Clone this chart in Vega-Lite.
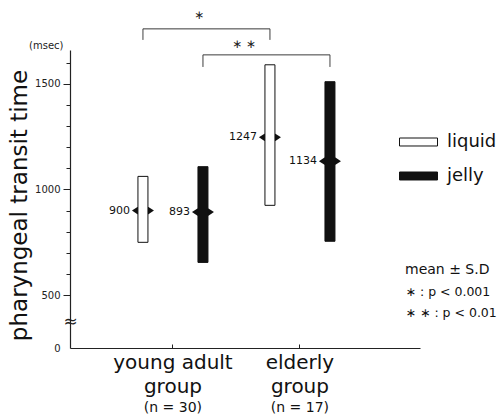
{
  "$schema": "https://vega.github.io/schema/vega-lite/v6.json",
  "autosize": {"type": "none"},
  "width": 350,
  "height": 298,
  "padding": {"left": 70, "top": 50, "right": 81, "bottom": 72},
  "background": "white",
  "config": {
    "view": {"stroke": null},
    "font": "DejaVu Sans",
    "axis": {"domainColor": "#222", "tickColor": "#222", "labelColor": "#222", "titleColor": "#222", "grid": false},
    "legend": {"padding": 0}
  },
  "datasets": {
    "main": [
      {"group": "young", "form": "liquid", "mean": 900, "low": 750, "high": 1062},
      {"group": "young", "form": "jelly", "mean": 893, "low": 655, "high": 1108},
      {"group": "elderly", "form": "liquid", "mean": 1247, "low": 925, "high": 1590},
      {"group": "elderly", "form": "jelly", "mean": 1134, "low": 755, "high": 1510}
    ],
    "brackets": [
      {"b": "A", "note": "∗ : p < 0.001", "group": "young", "form": "liquid", "y": 1708, "o": 1},
      {"b": "A", "note": "∗ : p < 0.001", "group": "young", "form": "liquid", "y": 1760, "o": 2},
      {"b": "A", "note": "∗ : p < 0.001", "group": "elderly", "form": "liquid", "y": 1760, "o": 3},
      {"b": "A", "note": "∗ : p < 0.001", "group": "elderly", "form": "liquid", "y": 1708, "o": 4},
      {"b": "B", "note": "∗ ∗ : p < 0.01", "group": "young", "form": "jelly", "y": 1580, "o": 1},
      {"b": "B", "note": "∗ ∗ : p < 0.01", "group": "young", "form": "jelly", "y": 1637, "o": 2},
      {"b": "B", "note": "∗ ∗ : p < 0.01", "group": "elderly", "form": "jelly", "y": 1637, "o": 3},
      {"b": "B", "note": "∗ ∗ : p < 0.01", "group": "elderly", "form": "jelly", "y": 1580, "o": 4}
    ],
    "groups": [
      {"group": "young", "n": "(n = 30)"},
      {"group": "elderly", "n": "(n = 17)"}
    ]
  },
  "encoding": {
    "x": {
      "field": "group", "type": "nominal",
      "scale": {"domain": ["young", "elderly"], "paddingInner": 0, "paddingOuter": 0.378, "align": 0.411},
      "axis": {
        "title": null, "labelAngle": 0, "domainWidth": 1.2,
        "tickSize": -4, "labelPadding": 8,
        "labelFontSize": 20, "labelLineHeight": 24, "labelColor": "#111",
        "labelExpr": "datum.value == 'young' ? ['young adult', 'group'] : ['elderly', 'group']"
      }
    }
  },
  "layer": [
    {
      "data": {"name": "main"},
      "mark": {"type": "point", "shape": "M-1,0L-0.5,-0.33L0.5,-0.33L1,0L0.5,0.33L-0.5,0.33Z", "filled": true, "color": "#111", "opacity": 1, "size": 484},
      "encoding": {
        "xOffset": {"field": "form", "type": "nominal", "scale": {"domain": ["liquid", "jelly"], "paddingInner": 0, "paddingOuter": 0.058}},
        "y": {
          "field": "mean", "type": "quantitative",
          "scale": {"domain": [250, 1660], "zero": false, "nice": false},
          "axis": {
            "title": "pharyngeal transit time",
            "titleFontSize": 23, "titleFontWeight": "normal", "titleColor": "#111",
            "titleX": -51, "titleY": 155, "titleBaseline": "middle",
            "values": [250, 375, 500, 600, 700, 800, 900, 1000, 1100, 1200, 1300, 1400, 1500, 1600, 1660],
            "tickCount": 30,
            "domainWidth": 1.2,
            "labelOverlap": false, "labelFlush": false, "labelBound": false,
            "labelExpr": "datum.value == 250 ? '0' : datum.value == 375 ? '≈' : datum.value == 1660 ? '(msec)' : (datum.value % 500 == 0 ? '' + datum.value : '')",
            "labelFontSize": {"condition": {"test": "datum.value == 375", "value": 17}, "value": 10},
            "labelAlign": {"condition": {"test": "datum.value == 375", "value": "center"}, "value": "right"},
            "labelBaseline": {"condition": {"test": "datum.value == 1660", "value": "bottom"}, "value": "middle"},
            "labelPadding": {"condition": {"test": "datum.value == 375", "value": -4}, "value": 3},
            "tickSize": {"condition": {"test": "datum.value % 500 == 0 || datum.value == 250", "value": 7}, "value": 4},
            "tickOpacity": {"condition": {"test": "datum.value == 250 || datum.value == 375 || datum.value == 1660", "value": 0}, "value": 1}
          }
        }
      }
    },
    {
      "data": {"name": "main"},
      "mark": {"type": "bar", "size": 10, "stroke": "#111", "strokeWidth": 1},
      "encoding": {
        "xOffset": {"field": "form", "type": "nominal"},
        "y": {"field": "low", "type": "quantitative"},
        "y2": {"field": "high"},
        "fill": {
          "field": "form", "type": "nominal",
          "scale": {"domain": ["liquid", "jelly"], "range": ["white", "#111"]},
          "legend": {
            "title": null, "orient": "none", "legendX": 329, "legendY": 77,
            "symbolType": "M-1,-0.21H1V0.21H-1Z", "symbolSize": 1444,
            "symbolStrokeColor": "#111", "symbolStrokeWidth": 1,
            "labelFontSize": 18, "labelColor": "#111", "labelOffset": 9,
            "clipHeight": 30, "rowPadding": 4
          }
        }
      }
    },
    {
      "data": {"name": "main"},
      "mark": {"type": "text", "align": "right", "baseline": "middle", "dx": -13, "fontSize": 11, "color": "#111"},
      "encoding": {
        "xOffset": {"field": "form", "type": "nominal"},
        "y": {"field": "mean", "type": "quantitative"},
        "text": {"field": "mean", "type": "quantitative"}
      }
    },
    {
      "data": {"name": "brackets"},
      "mark": {"type": "line", "color": "#333", "strokeWidth": 1},
      "encoding": {
        "xOffset": {"field": "form", "type": "nominal"},
        "y": {"field": "y", "type": "quantitative"},
        "detail": {"field": "b"},
        "order": {"field": "o"},
        "strokeDash": {
          "field": "note", "type": "nominal",
          "scale": {"domain": ["∗ : p < 0.001", "∗ ∗ : p < 0.01"], "range": [[1, 0], [1, 0]]},
          "legend": {
            "title": "mean ± S.D", "titleFontSize": 14, "titleFontWeight": "normal", "titleColor": "#111", "titlePadding": 9,
            "orient": "none", "legendX": 335, "legendY": 213,
            "labelFontSize": 12.5, "labelColor": "#111", "labelOffset": -12, "labelAlign": "left",
            "symbolType": "circle", "symbolSize": 1, "symbolOpacity": 0, "symbolStrokeWidth": 0, "rowPadding": 8
          }
        }
      }
    },
    {
      "data": {"values": [{"group": "young", "form": "jelly", "y": 1826, "t": "∗"}]},
      "mark": {"type": "text", "dx": -4, "fontSize": 12, "baseline": "middle", "color": "#222"},
      "encoding": {
        "xOffset": {"field": "form", "type": "nominal"},
        "y": {"field": "y", "type": "quantitative"},
        "text": {"field": "t"}
      }
    },
    {
      "data": {"values": [{"group": "elderly", "form": "liquid", "y": 1689, "t": "∗ ∗"}]},
      "mark": {"type": "text", "dx": -26, "fontSize": 12, "baseline": "middle", "color": "#222"},
      "encoding": {
        "xOffset": {"field": "form", "type": "nominal"},
        "y": {"field": "y", "type": "quantitative"},
        "text": {"field": "t"}
      }
    },
    {
      "data": {"name": "groups"},
      "mark": {"type": "text", "dy": 60, "fontSize": 14, "baseline": "middle", "color": "#111"},
      "encoding": {
        "y": {"datum": 250, "type": "quantitative"},
        "text": {"field": "n"}
      }
    }
  ]
}
